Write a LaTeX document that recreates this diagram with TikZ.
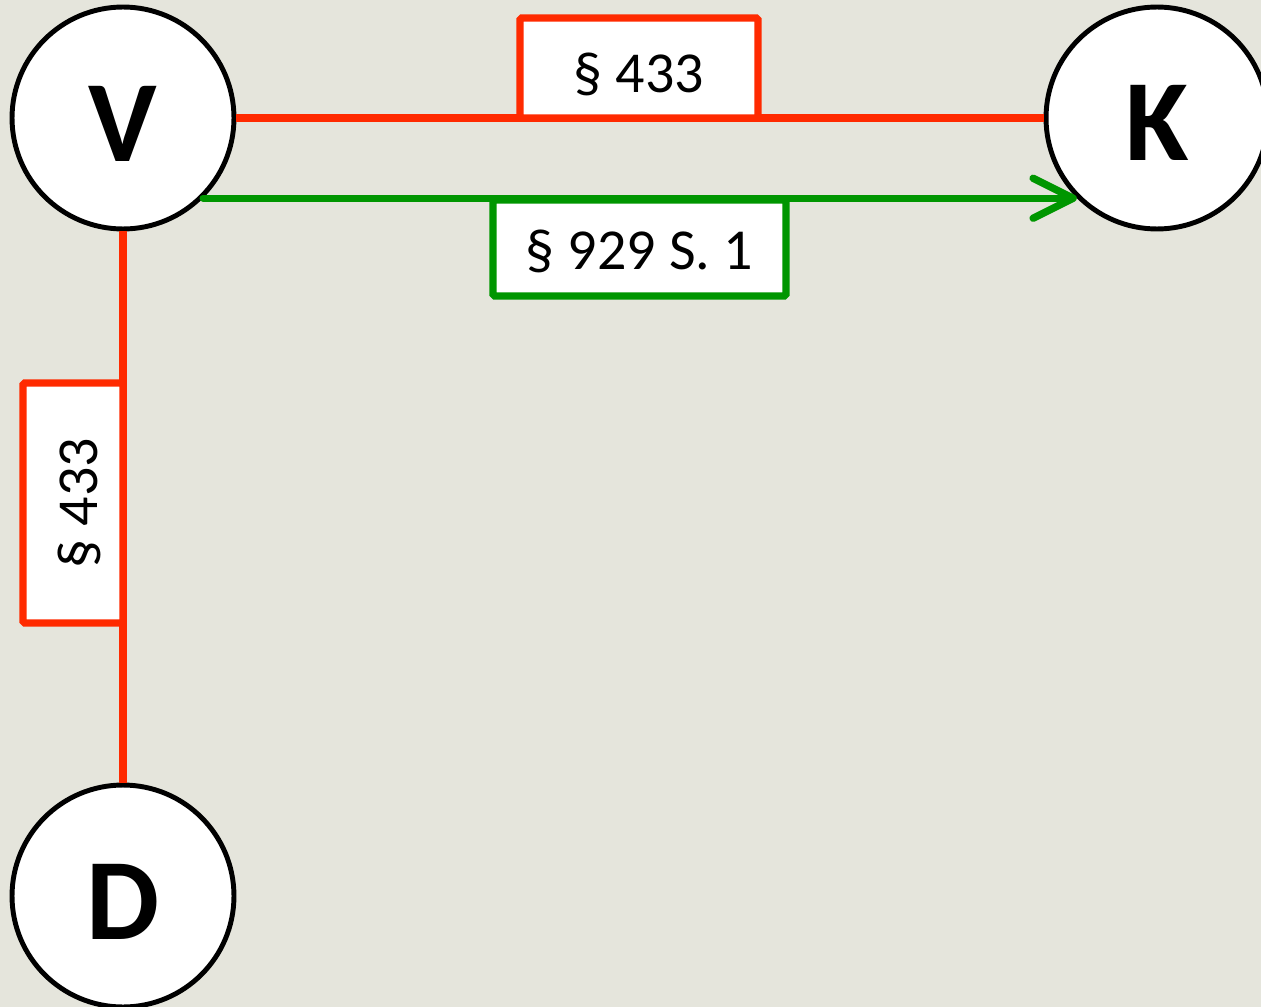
\documentclass[tikz,border=0pt]{standalone}
\usepackage{fontspec}
\setmainfont{Carlito}
\usetikzlibrary{arrows.meta}
\definecolor{bg}{RGB}{229,229,220}
\definecolor{myred}{RGB}{255,42,0}
\definecolor{mygreen}{RGB}{0,150,0}
\newcommand{\lowered}[2]{\raisebox{-#1}[0pt][0pt]{#2}}
\begin{document}
\begin{tikzpicture}[x=0.02cm,y=-0.02cm,
  party/.style={circle,draw=black,fill=white,line width=2.8pt,minimum size=4.44cm,inner sep=0pt,font=\fontsize{66}{70}\selectfont\bfseries},
  redbox/.style={draw=myred,fill=white,line width=4.2pt,rounded corners=1pt,inner sep=0pt,font=\fontsize{33}{36}\selectfont},
  greenbox/.style={draw=mygreen,fill=white,line width=4.2pt,rounded corners=1pt,inner sep=0pt,font=\fontsize{33}{36}\selectfont},
  redline/.style={draw=myred,line width=4.2pt},
  greenline/.style={draw=mygreen,line width=4.2pt,line cap=round}]
\fill[bg] (0,0) rectangle (1261,1007);
\useasboundingbox (0,0) rectangle (1261,1007);
\node[party] (V) at (123,118) {\lowered{0.87cm}{V}};
\node[party] (K) at (1157,118) {\lowered{0.86cm}{K}};
\node[party] (D) at (123,896) {\lowered{0.86cm}{D}};
\draw[redline] (V) -- (K);
\draw[redline] (V) -- (D);
\draw[greenline,-{Straight Barb[length=0.8cm,width=0.8cm,round]}] (V.-45) -- (K.-135);
\node[redbox,minimum width=4.76cm,minimum height=2.0cm] (b1) at (639,68) {\lowered{0.5cm}{§ 433}};
\node[greenbox,minimum width=5.86cm,minimum height=1.92cm] (b2) at (639.5,248) {\lowered{0.44cm}{§ 929 S. 1}};
\node[redbox,rotate=90,minimum width=4.8cm,minimum height=2.0cm] (b3) at (73,503) {\lowered{0.5cm}{§ 433}};
\end{tikzpicture}
\end{document}
